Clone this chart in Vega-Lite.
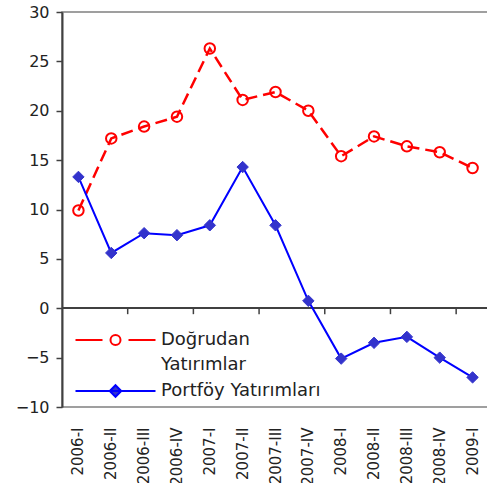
{
  "$schema": "https://vega.github.io/schema/vega-lite/v6.json",
  "autosize": "none",
  "padding": {"left": 62, "top": 12, "right": 0, "bottom": 76},
  "width": 427,
  "height": 395,
  "background": "white",
  "config": {
    "view": {"stroke": "#808080", "strokeWidth": 1.5},
    "font": "DejaVu Sans"
  },
  "data": {
    "values": [
      {"q": "2006-I", "series": "Doğrudan Yatırımlar", "v": 9.9},
      {"q": "2006-II", "series": "Doğrudan Yatırımlar", "v": 17.2},
      {"q": "2006-III", "series": "Doğrudan Yatırımlar", "v": 18.4},
      {"q": "2006-IV", "series": "Doğrudan Yatırımlar", "v": 19.4},
      {"q": "2007-I", "series": "Doğrudan Yatırımlar", "v": 26.3},
      {"q": "2007-II", "series": "Doğrudan Yatırımlar", "v": 21.1},
      {"q": "2007-III", "series": "Doğrudan Yatırımlar", "v": 21.9},
      {"q": "2007-IV", "series": "Doğrudan Yatırımlar", "v": 20.0},
      {"q": "2008-I", "series": "Doğrudan Yatırımlar", "v": 15.4},
      {"q": "2008-II", "series": "Doğrudan Yatırımlar", "v": 17.4},
      {"q": "2008-III", "series": "Doğrudan Yatırımlar", "v": 16.4},
      {"q": "2008-IV", "series": "Doğrudan Yatırımlar", "v": 15.8},
      {"q": "2009-I", "series": "Doğrudan Yatırımlar", "v": 14.2},
      {"q": "2006-I", "series": "Portföy Yatırımları", "v": 13.3},
      {"q": "2006-II", "series": "Portföy Yatırımları", "v": 5.6},
      {"q": "2006-III", "series": "Portföy Yatırımları", "v": 7.6},
      {"q": "2006-IV", "series": "Portföy Yatırımları", "v": 7.4},
      {"q": "2007-I", "series": "Portföy Yatırımları", "v": 8.4},
      {"q": "2007-II", "series": "Portföy Yatırımları", "v": 14.3},
      {"q": "2007-III", "series": "Portföy Yatırımları", "v": 8.4},
      {"q": "2007-IV", "series": "Portföy Yatırımları", "v": 0.75},
      {"q": "2008-I", "series": "Portföy Yatırımları", "v": -5.1},
      {"q": "2008-II", "series": "Portföy Yatırımları", "v": -3.5},
      {"q": "2008-III", "series": "Portföy Yatırımları", "v": -2.9},
      {"q": "2008-IV", "series": "Portföy Yatırımları", "v": -5.0},
      {"q": "2009-I", "series": "Portföy Yatırımları", "v": -7.0}
    ]
  },
  "encoding": {
    "x": {
      "field": "q", "type": "nominal", "sort": null,
      "scale": {
        "type": "band", "paddingInner": 0, "paddingOuter": 0,
        "domain": ["2006-I", "2006-II", "2006-III", "2006-IV", "2007-I", "2007-II", "2007-III", "2007-IV", "2008-I", "2008-II", "2008-III", "2008-IV", "2009-I"]
      },
      "axis": {
        "title": null, "ticks": false, "domain": false, "grid": false,
        "labelAngle": -90, "labelPadding": 20, "labelFontSize": 15,
        "labelColor": "#222222", "labelFont": "DejaVu Sans"
      }
    },
    "y": {
      "field": "v", "type": "quantitative",
      "scale": {"domain": [-10, 30], "nice": false, "zero": false},
      "axis": {
        "title": null, "grid": false, "values": [-10, -5, 0, 5, 10, 15, 20, 25, 30],
        "domainColor": "#404040", "domainWidth": 2, "tickColor": "#404040", "tickWidth": 1.5,
        "tickSize": 6, "labelPadding": 7, "labelFontSize": 16, "labelColor": "#222222",
        "labelFont": "DejaVu Sans"
      }
    }
  },
  "layer": [
    {
      "mark": {"type": "rule", "color": "#404040", "strokeWidth": 1.5},
      "encoding": {"x": null, "y": {"datum": 0, "type": "quantitative"}}
    },
    {
      "transform": [
        {"filter": {"field": "series", "equal": "Portföy Yatırımları"}},
        {"filter": {"field": "q", "oneOf": ["2006-II", "2006-IV", "2007-II", "2007-IV", "2008-II", "2008-IV"]}}
      ],
      "mark": {"type": "rule", "color": "#404040", "strokeWidth": 1.5},
      "encoding": {
        "x": {"field": "q", "type": "nominal", "sort": null, "bandPosition": 1},
        "y": {"datum": 0, "type": "quantitative"},
        "y2": {"datum": -0.6}
      }
    },
    {
      "transform": [{"filter": {"field": "series", "equal": "Doğrudan Yatırımlar"}}],
      "mark": {"type": "line", "strokeDash": [12, 6], "strokeWidth": 2.5, "color": "#ff0000"}
    },
    {
      "transform": [{"filter": {"field": "series", "equal": "Portföy Yatırımları"}}],
      "mark": {"type": "line", "strokeWidth": 2},
      "encoding": {
        "color": {
          "field": "series", "type": "nominal",
          "scale": {"domain": ["Doğrudan Yatırımlar", "Portföy Yatırımları"], "range": ["#ff0000", "#0000ff"]},
          "legend": {
            "orient": "none", "legendX": 44.5, "legendY": 319, "title": null, "padding": 0,
            "symbolSize": 100, "labelOffset": 36.5, "labelFontSize": 18, "labelFont": "DejaVu Sans",
            "labelColor": "#222222", "labelLimit": 400, "rowPadding": 7,
            "labelExpr": "datum.label == 'Doğrudan Yatırımlar' ? ['Doğrudan', 'Yatırımlar'] : datum.label",
            "encode": {
              "labels": {"update": {"lineHeight": {"value": 25}}},
              "symbols": {
                "update": {
                  "shape": {"signal": "datum.value === 'Doğrudan Yatırımlar' ? 'M-8,0H-2.6M2.6,0H8M1,0A1,1,0,1,1,-1,0A1,1,0,1,1,1,0' : 'M-8,0H8M0,-1.15L1.15,0L0,1.15L-1.15,0Z'"},
                  "fill": {"signal": "datum.value === 'Doğrudan Yatırımlar' ? 'white' : '#3333cc'"},
                  "stroke": {"signal": "datum.value === 'Doğrudan Yatırımlar' ? '#ff0000' : '#0000ff'"},
                  "strokeWidth": {"value": 2},
                  "opacity": {"value": 1},
                  "size": {"value": 100}
                }
              }
            }
          }
        }
      }
    },
    {
      "transform": [{"filter": {"field": "series", "equal": "Doğrudan Yatırımlar"}}],
      "mark": {"type": "point", "shape": "circle", "filled": false, "stroke": "#ff0000", "strokeWidth": 2, "size": 110, "opacity": 1}
    },
    {
      "transform": [{"filter": {"field": "series", "equal": "Portföy Yatırımları"}}],
      "mark": {"type": "point", "shape": "diamond", "filled": true, "fill": "#3333cc", "stroke": "#3333cc", "strokeWidth": 1, "size": 130, "opacity": 1}
    }
  ]
}
